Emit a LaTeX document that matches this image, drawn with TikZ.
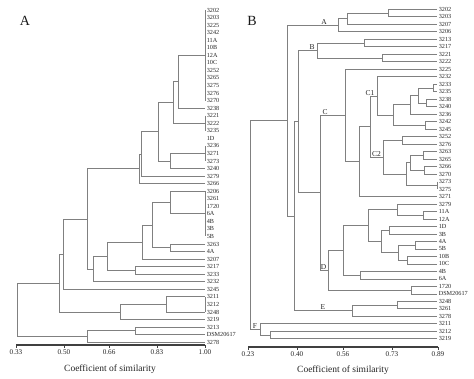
\documentclass[tikz,border=0pt]{standalone}
\usepackage{fontspec}
\setmainfont{Liberation Serif}
\usetikzlibrary{calc}
\newcommand\dendnode[4]{%
  \coordinate (tmpm) at ($(#3)!0.5!(#4)$);
  \coordinate (tmpx) at (#2,0);
  \coordinate (#1) at (tmpm -| tmpx);
  \draw[dl] (#3) -- (#3 -| #1) -- (#4 -| #1) -- (#4);
}
\begin{document}
\begin{tikzpicture}[x=1pt,y=-1pt,
  dl/.style={draw=black!50,line width=0.8pt},
  axisline/.style={draw=black!75,line width=1.1pt},
  leaf/.style={anchor=west,inner sep=0pt,xshift=1.6pt,text=black!85,font=\fontsize{6.2}{7}\selectfont},
  ticklab/.style={inner sep=0pt,text=black!85,font=\fontsize{7.2}{8}\selectfont},
  axtitle/.style={inner sep=0pt,text=black!85,font=\fontsize{9.5}{11}\selectfont},
  paneltitle/.style={inner sep=0pt,text=black!90,font=\fontsize{14}{16}\selectfont},
  clab/.style={anchor=south,inner sep=0.6pt,text=black!85,font=\fontsize{7.5}{8}\selectfont}]
\useasboundingbox (0,0) rectangle (474,379);
\fill[white] (0,0) rectangle (474,379);

% ================= Panel A =================
\node[paneltitle] (titleA) at (25,21) {A};
\foreach \n [count=\i from 0] in {3202,3203,3225,3242,11A,10B,12A,10C,3252,3265,3275,3276,3270,3238,3221,3222,3235,1D,3236,3271,3273,3240,3279,3266,3206,3261,1720,6A,4B,3B,5B,3263,4A,3207,3217,3233,3232,3245,3211,3212,3248,3219,3213,DSM20617,3278}{
  \coordinate (a\i) at (205,{10+7.55*\i});
  \node[leaf] (ta\i) at (a\i) {\n};
}
% brackets of identical profiles
\draw[dl] (a0) -- (a12);
\draw[dl] (a14) -- (a16);
\draw[dl] (a18) -- (a20);
\draw[dl] (a24) -- (a30);
\draw[dl] (a38) -- (a40);
\dendnode{N1}{178}{a6}{a13}
\dendnode{N2}{173}{N1}{a15}
\dendnode{N3p}{170}{a19}{a21}
\dendnode{N3}{158}{N2}{N3p}
\dendnode{N4}{141}{N3}{a22}
\dendnode{N5}{139}{N4}{a23}
\dendnode{N6}{170}{a24}{a27}
\dendnode{N7}{170}{a31}{a32}
\dendnode{N8}{152}{N6}{N7}
\dendnode{N9}{142}{N8}{a33}
\dendnode{N10}{135}{a34}{a35}
\dendnode{N11}{107}{N9}{N10}
\dendnode{N12}{93}{N11}{a36}
\dendnode{N13}{87}{N5}{N12}
\dendnode{N14}{63}{N13}{a37}
\dendnode{N17}{166}{a38}{a40}
\dendnode{N16}{120}{N17}{a41}
\dendnode{N15}{59}{N14}{N16}
\dendnode{N19}{135}{a42}{a43}
\dendnode{N20}{87}{N19}{a44}
\dendnode{RA}{17}{N15}{N20}
% axis A
\coordinate (axA0) at (16,345);
\coordinate (axA1) at (205,345);
\draw[axisline] (axA0) -- (axA1);
\foreach \v/\lab [count=\k] in {16/0.33,63.9/0.50,109.1/0.66,157/0.83,205/1.00}{
  \coordinate (tA\k) at (\v,345);
  \draw[axisline,line width=0.7pt] (tA\k) -- ++(0,3.5);
  \node[ticklab] (tlA\k) at (\v,352.5) {\lab};
}
\node[axtitle] (xtA) at (110,369) {Coefficient of similarity};

% ================= Panel B =================
\node[paneltitle] (titleB) at (252,21) {B};
\foreach \n [count=\i from 0] in {3202,3203,3207,3206,3213,3217,3221,3222,3225,3232,3233,3235,3238,3240,3236,3242,3245,3252,3276,3263,3265,3266,3270,3273,3275,3271,3279,11A,12A,1D,3B,4A,5B,10B,10C,4B,6A,1720,DSM20617,3248,3261,3278,3211,3212,3219}{
  \coordinate (b\i) at (437,{9.3+7.49*\i});
  \node[leaf] (tb\i) at (b\i) {\n};
}
% cluster A
\dendnode{ba1}{388}{b0}{b1}
\dendnode{ba2}{347}{ba1}{b2}
\dendnode{bA}{338}{ba2}{b3}
% cluster B
\dendnode{bb1}{364}{b4}{b5}
\dendnode{bb2}{382}{b6}{b7}
\dendnode{bB}{317}{bb1}{bb2}
% cluster C1
\dendnode{ca}{433}{b10}{b11}
\dendnode{cb}{426}{b12}{b13}
\dendnode{cc}{418}{ca}{cb}
\dendnode{cd}{410}{cc}{b14}
\dendnode{ce}{425}{b15}{b16}
\dendnode{cf}{393}{cd}{ce}
\dendnode{cC1}{377}{b9}{cf}
% cluster C2
\dendnode{cg}{402}{b17}{b18}
\dendnode{c2a}{423}{b19}{b20}
\dendnode{c2b}{424}{b21}{b22}
\dendnode{c2c}{410}{c2a}{c2b}
\dendnode{c2d}{437}{b23}{b24}
\dendnode{c2e}{406}{c2c}{c2d}
\dendnode{cC2}{383}{cg}{c2e}
\dendnode{cC12}{370}{cC1}{cC2}
\dendnode{cCp}{359}{cC12}{b25}
\dendnode{bC}{345}{b8}{cCp}
% cluster D
\dendnode{d11}{423}{b27}{b28}
\dendnode{d1}{397}{b26}{d11}
\dendnode{d12}{389}{b29}{b30}
\dendnode{d13}{415}{b31}{b32}
\dendnode{d14}{407}{b33}{b34}
\dendnode{d3}{398}{d13}{d14}
\dendnode{d2}{381}{d12}{d3}
\dendnode{d4}{368}{d1}{d2}
\dendnode{d6}{360}{b35}{b36}
\dendnode{d5}{343}{d4}{d6}
\dendnode{d7}{411}{b37}{b38}
\dendnode{bD}{328}{d5}{d7}
\dendnode{R4}{320}{bC}{bD}
\dendnode{R3}{298}{bB}{R4}
% cluster E
\dendnode{e1}{397}{b39}{b40}
\dendnode{bE}{352}{e1}{b41}
\dendnode{R2}{294}{R3}{bE}
\dendnode{R1}{287}{bA}{R2}
% cluster F
\dendnode{f1}{270}{b43}{b44}
\dendnode{F2}{260}{b42}{f1}
\dendnode{RB}{250}{R1}{F2}
% cluster labels
\node[clab] (lA) at ($(bA -| R1)+(37,0)$) {A};
\node[clab] (lB) at ($(bB)+(-5,0)$) {B};
\node[clab] (lC) at ($(bC)+(-20,0)$) {C};
\node[clab] (lC1) at (cC1 -| cC12) {C1};
\node[clab] (lC2) at ($(cC2)+(-6.5,0)$) {C2};
\node[clab] (lD) at ($(bD)+(-4.5,0)$) {D};
\node[clab] (lE) at ($(bE)+(-29,0)$) {E};
\node[clab] (lF) at ($(F2)+(-5,0)$) {F};
% axis B
\coordinate (axB0) at (248,347);
\coordinate (axB1) at (438,347);
\draw[axisline] (axB0) -- (axB1);
\foreach \v/\lab [count=\k] in {248/0.23,297/0.40,343/0.56,392/0.73,438/0.89}{
  \coordinate (tB\k) at (\v,347);
  \draw[axisline,line width=0.7pt] (tB\k) -- ++(0,3.5);
  \node[ticklab] (tlB\k) at (\v,354.5) {\lab};
}
\node[axtitle] (xtB) at (343,370) {Coefficient of similarity};
\end{tikzpicture}
\end{document}
